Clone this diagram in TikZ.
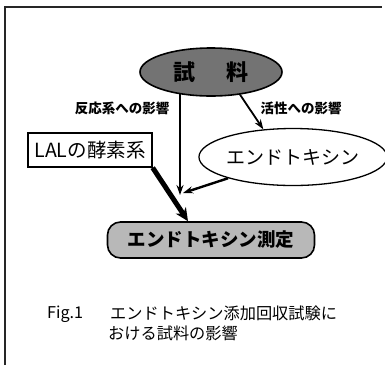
\documentclass[tikz,border=0pt]{standalone}
\usepackage{fontspec}
\newfontfamily\jp{Noto Sans CJK JP}
\usetikzlibrary{shapes.geometric,arrows.meta}
\tikzset{
  frameline/.style={line width=1.1pt, black!85},
  arr/.style={line width=1.8pt, -{Stealth[length=10pt,width=7pt]}},
  thickarr/.style={line width=5pt, -{Stealth[length=13pt,width=12pt]}},
  lbl/.style={font=\jp\fontsize{13.5}{15}\selectfont\bfseries, inner sep=0pt},
  captext/.style={font=\jp\fontsize{16.2}{18}\selectfont, inner sep=0pt, anchor=west}
}
\begin{document}
\begin{tikzpicture}[x=1pt,y=-1pt]
\useasboundingbox (0,0) rectangle (385,365);
\fill[white] (0,0) rectangle (385,365);
\draw[frameline] (5,365) -- (5,7) -- (382,7);

\node[ellipse, draw, line width=1.6pt, fill=black!55, text=black, inner sep=0pt,
      minimum width=142pt, minimum height=48pt,
      font=\jp\fontsize{22}{24}\selectfont\bfseries] (sample) at (211,72) {試\hspace{31pt}料};

\node[lbl] (l1) at (122,108) {反応系への影響};
\node[lbl] (l2) at (301,108) {活性への影響};

\node[draw, line width=1.3pt, fill=white, inner sep=0pt, minimum width=124pt, minimum height=34pt,
      font=\jp\fontsize{19.5}{21}\selectfont] (lal) at (90,150) {LALの酵素系};

\node[ellipse, draw, line width=1.3pt, fill=white, inner sep=0pt,
      minimum width=170pt, minimum height=57pt,
      font=\jp\fontsize{19}{21}\selectfont] (endo) at (293,157) {エンドトキシン};

\node[draw, line width=1.6pt, rounded corners=13pt, fill=black!28, text=black, inner sep=0pt,
      minimum width=207pt, minimum height=36pt,
      font=\jp\fontsize{18.5}{21}\selectfont\bfseries] (meas) at (211,240) {エンドトキシン測定};

\coordinate (tipA) at (180,195);
\coordinate (tipB) at (183,193);

\draw[arr] (tipA |- sample.214) -- (tipA);
\draw[arr] (sample.322) -- (endo.137);
\draw[arr, line width=2.4pt] (endo) -- (tipB);
\draw[thickarr] (lal.south east) -- ([xshift=-23pt]meas.north);

\node[captext] (fig) at (47,314) {Fig.1};
\node[captext] (c1) at (110,313) {エンドトキシン添加回収試験に};
\node[captext] (c2) at (108,333) {おける試料の影響};
\end{tikzpicture}
\end{document}
